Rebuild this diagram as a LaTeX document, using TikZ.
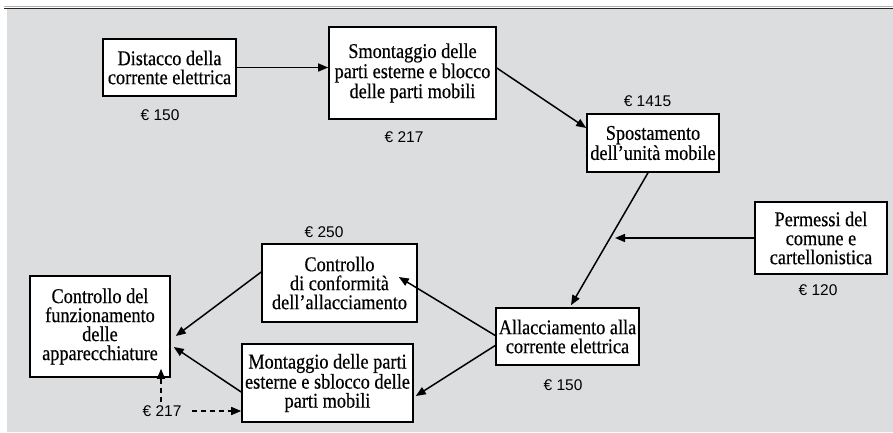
\documentclass[tikz,border=0pt]{standalone}
\usepackage{fontspec}
\setmainfont[FakeStretch=0.87,FakeBold=0.4]{Liberation Serif}
\newfontfamily\eurofont{Liberation Sans}
\usetikzlibrary{arrows.meta}
\definecolor{bggray}{HTML}{DCDDDF}
\tikzset{
  box/.style={draw=black, line width=1.6pt, fill=white, align=center, inner sep=1pt,
    font=\fontsize{21}{19}\selectfont},
  cost/.style={font=\eurofont\fontsize{15.5}{16}\selectfont, inner sep=0pt},
  arr/.style={line width=1.5pt, -{Triangle[length=10pt,width=8pt]}},
  darr/.style={arr, dash pattern=on 5pt off 4pt},
}
\begin{document}
\begin{tikzpicture}[x=1pt,y=-1pt]
\useasboundingbox (0,0) rectangle (893,432);
\fill[bggray] (7,9) rectangle (893,432);
\draw[line width=0.8pt, gray!60] (4,6.8) -- (893,6.8);
\draw[line width=1.6pt, black!85] (4,8.4) -- (893,8.4);

\node[box, minimum width=133pt, minimum height=57pt] (dist) at (169.5,67.5) {Distacco della\\corrente elettrica};
\node[box, minimum width=167pt, minimum height=92pt] (smon) at (412.5,73) {Smontaggio delle\\parti esterne e blocco\\delle parti mobili};
\node[box, minimum width=132pt, minimum height=58pt] (spos) at (653,143) {Spostamento\\dell’unità mobile};
\node[box, minimum width=132pt, minimum height=72pt] (perm) at (821,238) {Permessi del\\comune e\\cartellonistica};
\node[box, minimum width=143pt, minimum height=57pt] (alla) at (567.5,336.5) {Allacciamento alla\\corrente elettrica};
\node[box, minimum width=155pt, minimum height=78pt] (conf) at (339.5,283) {Controllo\\di conformità\\dell’allacciamento};
\node[box, minimum width=171pt, minimum height=78pt] (mont) at (327.5,383) {Montaggio delle parti\\esterne e sblocco delle\\parti mobili};
\node[box, minimum width=140pt, minimum height=101pt] (funz) at (100,326.5) {Controllo del\\funzionamento\\delle\\apparecchiature};

\node[cost] (c1) at (160,115) {€ 150};
\node[cost] (c2) at (404,137) {€ 217};
\node[cost] (c3) at (647.5,101) {€ 1415};
\node[cost] (c4) at (818,290) {€ 120};
\node[cost] (c5) at (563,385) {€ 150};
\node[cost] (c6) at (324,232) {€ 250};
\node[cost] (c7) at (162,411) {€ 217};

\coordinate (pm) at (615,238);

\draw[arr] (dist.east) -- (dist.east -| smon.west);
\draw[arr] ([yshift=5pt]smon.east) -- ([yshift=15pt]spos.west);
\draw[arr] ([xshift=-5pt]spos.south) -- ([xshift=3.5pt,yshift=2pt]alla.north);
\draw[arr] (perm.west) -- (pm);
\draw[arr] ([yshift=1pt]alla.west) -- ([xshift=-19pt,yshift=6pt]conf.east);
\draw[arr] ([yshift=-9pt]alla.west) -- ([xshift=2pt,yshift=-13pt]mont.east);
\draw[arr] ([yshift=11pt]conf.west) -- ([xshift=5pt,yshift=-9.5pt]funz.east);
\draw[arr] ([yshift=-9pt]mont.west) -- ([xshift=3pt,yshift=-20.5pt]funz.east);
\draw[darr] ([xshift=-1pt,yshift=3pt]c7.north) -- ([xshift=-1pt,yshift=9pt]c7.north |- funz.south);
\draw[darr] ([xshift=10pt]c7.east) -- (c7.east -| mont.west);
\end{tikzpicture}
\end{document}
